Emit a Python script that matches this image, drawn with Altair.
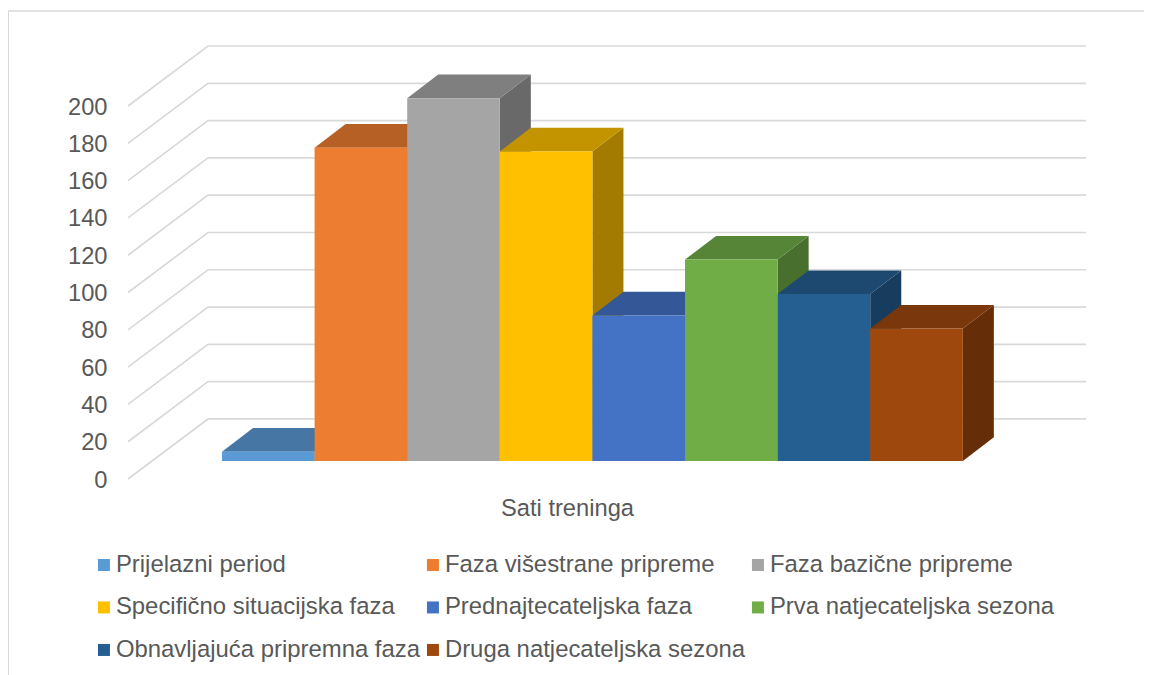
import altair as alt
import pandas as pd

categories = ["Prijelazni period", "Faza višestrane pripreme", "Faza bazične pripreme",
              "Specifično situacijska faza", "Prednajtecateljska faza", "Prva natjecateljska sezona",
              "Obnavljajuća pripremna faza", "Druga natjecateljska sezona"]
values = [5, 168, 194.5, 166, 78, 108, 89.5, 71]
front_colors = ["#5B9BD5", "#ED7D31", "#A5A5A5", "#FFC000", "#4472C4", "#70AD47", "#255E91", "#9E480E"]
top_colors = ["#4677A4", "#B66025", "#7F7F7F", "#C49400", "#345897", "#568537", "#1D486F", "#79370B"]
side_colors = ["#3A6388", "#985020", "#696969", "#A37B00", "#2C497D", "#486F2D", "#183C5D", "#652E09"]
tick_values = list(range(0, 201, 20))

X_MAX = 10.345
Y_MAX = 232.2
WALL_DX, WALL_DY = 0.864, 32.2
BAR_START = 1.015
BAR_BASE = 9.65
BAR_DX, BAR_DY = 0.335, 12.7

grid_rows = []
for t in tick_values:
    grid_rows += [
        {"tick": t, "x": 0, "y": t},
        {"tick": t, "x": WALL_DX, "y": t + WALL_DY},
        {"tick": t, "x": X_MAX, "y": t + WALL_DY},
    ]

front_rows, top_rows, side_rows = [], [], []
for i, (c, v) in enumerate(zip(categories, values)):
    x0, x1 = BAR_START + i, BAR_START + i + 1
    t = BAR_BASE + v
    front_rows.append({"cat": c, "x": x0, "x2": x1, "y": BAR_BASE, "y2": t})
    for x, lo, hi in [(x0, t, t), (x0 + BAR_DX, t, t + BAR_DY), (x1, t, t + BAR_DY), (x1 + BAR_DX, t + BAR_DY, t + BAR_DY)]:
        top_rows.append({"cat": c, "x": x, "y": lo, "y2": hi, "col": top_colors[i]})
    for x, lo, hi in [(x1, BAR_BASE, t), (x1 + BAR_DX, BAR_BASE + BAR_DY, t + BAR_DY)]:
        side_rows.append({"cat": c, "x": x, "y": lo, "y2": hi, "col": side_colors[i]})

FONT = "Liberation Sans"
TEXT = "#595959"

x_enc = alt.X("x:Q", scale=alt.Scale(domain=[0, X_MAX], nice=False, zero=False),
              axis=alt.Axis(title="Sati treninga", labels=False, ticks=False, domain=False, grid=False,
                            titleFont=FONT, titleFontSize=23.7, titleFontWeight="normal", titleColor=TEXT,
                            titleX=439, titleY=29, titleAlign="center", titleBaseline="middle"))
y_enc = alt.Y("y:Q", scale=alt.Scale(domain=[0, Y_MAX], nice=False, zero=False),
              axis=alt.Axis(title=None, values=tick_values, ticks=False, domain=False, grid=False,
                            labelFont=FONT, labelFontSize=23.7, labelColor=TEXT, labelPadding=21,
                            labelOffset=1))

grid = alt.Chart(pd.DataFrame(grid_rows)).mark_line(color="#D9D9D9", strokeWidth=1.7).encode(
    x=x_enc, y=y_enc, detail="tick:O")

sides = alt.Chart(pd.DataFrame(side_rows)).mark_area(interpolate="linear").encode(
    x=x_enc, y=y_enc, y2="y2:Q", detail="cat:N", color=alt.Color("col:N", scale=None))

tops = alt.Chart(pd.DataFrame(top_rows)).mark_area(interpolate="linear").encode(
    x=x_enc, y=y_enc, y2="y2:Q", detail="cat:N", color=alt.Color("col:N", scale=None))

fronts = alt.Chart(pd.DataFrame(front_rows)).mark_bar().encode(
    x=x_enc, x2="x2:Q", y=y_enc, y2="y2:Q",
    color=alt.Color("cat:N", sort=categories,
                    scale=alt.Scale(domain=categories, range=front_colors),
                    legend=alt.Legend(title=None, orient="none", legendX=-36, legendY=507, columns=3,
                                      direction="horizontal",
                                      symbolType="square", symbolSize=144, symbolStrokeWidth=0,
                                      labelFont=FONT, labelFontSize=23.9, labelColor=TEXT, labelOffset=0,
                                      labelLimit=400, columnPadding=0, rowPadding=17.5, padding=0)))

border_left = alt.Chart(pd.DataFrame({"a": [0]})).mark_rule(color="#D9D9D9", strokeWidth=2).encode(
    x=alt.value(-120), y=alt.value(-35), y2=alt.value(640))
border_top = alt.Chart(pd.DataFrame({"a": [0]})).mark_rule(color="#D9D9D9", strokeWidth=1.5).encode(
    x=alt.value(-120), x2=alt.value(1030), y=alt.value(-35))

chart = alt.layer(border_left, border_top, grid, sides, tops, fronts).properties(
    width=958, height=433,
    padding={"left": 120, "top": 38, "right": 58, "bottom": 196},
    autosize=alt.AutoSizeParams(type="none"),
    background="white",
).configure_view(stroke=None)

chart.save("out.html", embed_options={"renderer": "svg", "actions": False})
